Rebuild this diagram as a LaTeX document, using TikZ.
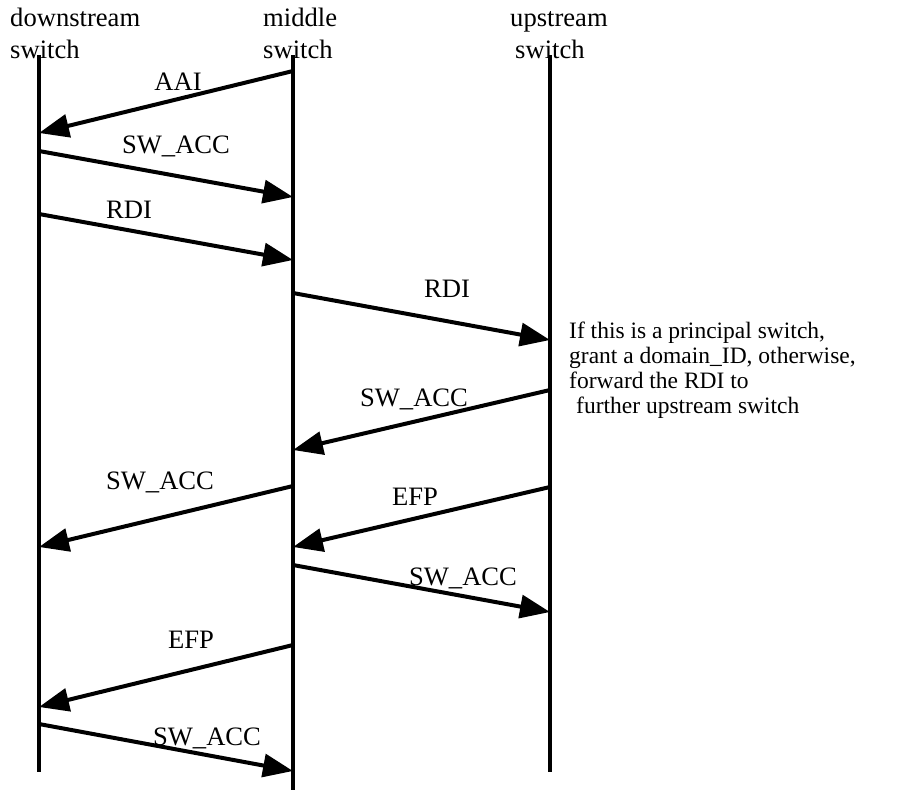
\documentclass[tikz,border=0pt]{standalone}
\usepackage{fontspec}
\setmainfont{Liberation Serif}
\usetikzlibrary{arrows.meta}
\begin{document}
\begin{tikzpicture}[x=1pt,y=-1pt,
  lifeline/.style={line width=4.5pt},
  msg/.style={line width=4pt,-{Triangle[length=30pt,width=23pt]}},
  lbl/.style={anchor=base,inner sep=0pt,font=\fontsize{26.6}{32}\selectfont},
  hdr/.style={anchor=base west,inner sep=0pt,font=\fontsize{26.6}{32}\selectfont},
  notetext/.style={anchor=base west,inner sep=0pt,font=\fontsize{23.5}{25}\selectfont}]
\useasboundingbox (0,0) rectangle (905,790);

% headers
\node[hdr] (hD1) at (10,26) {downstream};
\node[hdr] (hD2) at (10,58) {switch};
\node[hdr] (hM1) at (263,26) {middle};
\node[hdr] (hM2) at (263,58) {switch};
\node[hdr] (hU1) at (510,26) {upstream};
\node[hdr] (hU2) at (515,58) {switch};

% lifelines
\coordinate (dT) at (39,55);  \coordinate (dB) at (39,772);
\coordinate (mT) at (293,55); \coordinate (mB) at (293,790);
\coordinate (uT) at (550,55); \coordinate (uB) at (550,772);
\draw[lifeline] (dT) -- (dB);
\draw[lifeline] (mT) -- (mB);
\draw[lifeline] (uT) -- (uB);

% message end points
\coordinate (m1) at (293,71);  \coordinate (d1) at (39,133);
\coordinate (d2) at (39,151);  \coordinate (m2) at (293,197);
\coordinate (d3) at (39,214);  \coordinate (m3) at (293,260);
\coordinate (m4) at (293,293); \coordinate (u4) at (550,340);
\coordinate (u5) at (550,390); \coordinate (m5) at (293,450);
\coordinate (m6) at (293,486); \coordinate (d6) at (39,547);
\coordinate (u7) at (550,487); \coordinate (m7) at (293,547);
\coordinate (m8) at (293,565); \coordinate (u8) at (550,612);
\coordinate (m9) at (293,645); \coordinate (d9) at (39,707);
\coordinate (d10) at (39,724); \coordinate (m10) at (293,771);

\draw[msg] (m1) -- (d1);
\draw[msg] (d2) -- (m2);
\draw[msg] (d3) -- (m3);
\draw[msg] (m4) -- (u4);
\draw[msg] (u5) -- (m5);
\draw[msg] (m6) -- (d6);
\draw[msg] (u7) -- (m7);
\draw[msg] (m8) -- (u8);
\draw[msg] (m9) -- (d9);
\draw[msg] (d10) -- (m10);

% labels
\node[lbl] (l1) at (178,90) {AAI};
\node[lbl] (l2) at (176,153) {SW\_ACC};
\node[lbl] (l3) at (129,218) {RDI};
\node[lbl] (l4) at (447,297) {RDI};
\node[lbl] (l5) at (414,406) {SW\_ACC};
\node[lbl] (l6) at (160,489) {SW\_ACC};
\node[lbl] (l7) at (415,505) {EFP};
\node[lbl] (l8) at (463,585) {SW\_ACC};
\node[lbl] (l9) at (191,648) {EFP};
\node[lbl] (l10) at (207,745) {SW\_ACC};

% note
\node[notetext] (n1) at (569,338) {If this is a principal switch,};
\node[notetext] (n2) at (569,363) {grant a domain\_ID, otherwise,};
\node[notetext] (n3) at (569,388) {forward the RDI to};
\node[notetext] (n4) at (576,413) {further upstream switch};
\end{tikzpicture}
\end{document}
